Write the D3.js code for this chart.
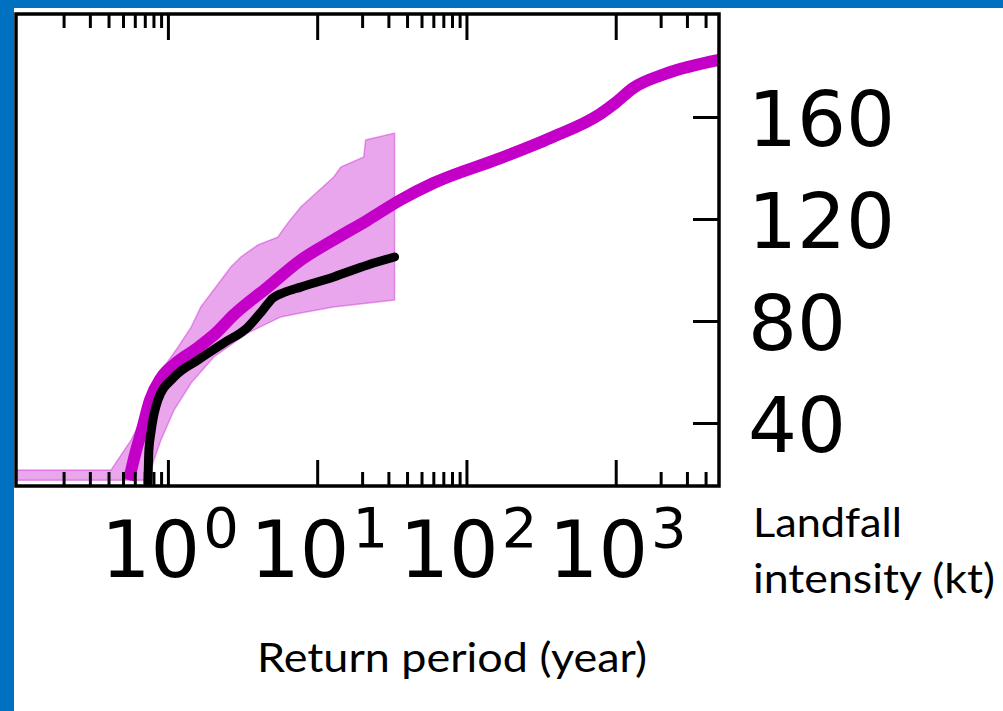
<!DOCTYPE html>
<html>
<head>
<meta charset="utf-8">
<script src="https://cdn.jsdelivr.net/npm/d3@7"></script>
<style>
  html, body { margin: 0; padding: 0; background: #ffffff; }
  svg { display: block; }
</style>
</head>
<body>
<svg id="chart" width="1003" height="711"></svg>
<script>
// ---- data ----
// Modelled (median) return-period curve: return period (yr), landfall intensity (kt)
const modelPeriod    = [0.548, 0.601, 0.670, 0.758, 0.898, 1.13, 1.54, 2.10, 2.76, 4.67, 7.76, 12.9, 21.8, 36.2, 60.2, 169, 365, 787, 993, 1310, 2143, 4920];
const modelIntensity = [17.6, 27.5, 37.3, 49.0, 57.6, 63.5, 69.0, 75.3, 82.4, 93.3, 103.9, 111.8, 119.6, 127.5, 134.1, 143.9, 151.8, 161.2, 165.5, 171.4, 176.9, 182.4];

// Observed return-period curve
const obsPeriod    = [0.735, 0.746, 0.769, 0.857, 1.10, 1.59, 2.37, 3.43, 4.32, 5.04, 6.15, 7.76, 12.9, 21.8, 33.0];
const obsIntensity = [16.5, 29.4, 36.1, 49.0, 58.0, 64.7, 71.4, 77.6, 84.3, 89.0, 91.4, 93.3, 97.3, 102.0, 105.1];

// Uncertainty band (upper and lower bounds)
const upperPeriod    = [0.096, 0.416, 0.566, 0.735, 0.94, 1.17, 1.43, 1.66, 2.64, 3.08, 4.0, 5.44, 6.35, 7.76, 12.9, 14.4, 20.5, 21.1, 33.0];
const upperIntensity = [21.6, 21.6, 33.3, 46.3, 62.0, 69.8, 77.6, 85.5, 101.2, 105.1, 109.8, 112.9, 118.4, 124.7, 136.5, 140.4, 144.3, 151.0, 153.7];
const lowerPeriod    = [0.096, 0.735, 0.806, 0.898, 1.10, 1.43, 2.03, 3.43, 5.70, 7.76, 12.9, 33.0];
const lowerIntensity = [17.6, 17.6, 25.5, 33.3, 45.1, 55.7, 65.9, 75.3, 81.6, 83.1, 85.5, 88.2];

// Axes
const xDomain = [0.096, 4920];
const yDomain = [15.3, 200.4];
const xMajorTicks = [1, 10, 100, 1000];
const xMajorExponents = ["0", "1", "2", "3"];
const xMinorTicks = [0.2, 0.3, 0.4, 0.5, 0.6, 0.7, 0.8, 0.9, 20, 30, 40, 50, 60, 70, 80, 90, 2000, 3000, 4000];
const yTicks = [40, 80, 120, 160];
const xTitle = "Return period (year)";
const yTitleLines = ["Landfall", "intensity (kt)"];

// ---- drawing ----
const svg = d3.select("#chart");
const W = 1003, H = 711;
const plot = { left: 16, right: 719, top: 14, bottom: 486 };

// slide background: blue frame on top and left
svg.append("rect").attr("x", 0).attr("y", 0).attr("width", W).attr("height", H).attr("fill", "#ffffff");
svg.append("rect").attr("x", 0).attr("y", 0).attr("width", W).attr("height", 8).attr("fill", "#0070c0");
svg.append("rect").attr("x", 0).attr("y", 0).attr("width", 14).attr("height", H).attr("fill", "#0070c0");

const x = d3.scaleLog().domain(xDomain).range([plot.left, plot.right]);
const y = d3.scaleLinear().domain(yDomain).range([plot.bottom, plot.top]);

svg.append("clipPath").attr("id", "clip")
  .append("rect").attr("x", plot.left).attr("y", plot.top)
  .attr("width", plot.right - plot.left).attr("height", plot.bottom - plot.top);

const g = svg.append("g").attr("clip-path", "url(#clip)");

// band
const upper = upperPeriod.map((p, i) => [p, upperIntensity[i]]);
const lower = lowerPeriod.map((p, i) => [p, lowerIntensity[i]]);
const bandPts = upper.concat(lower.slice().reverse());
g.append("path")
  .attr("d", d3.line().x(d => x(d[0])).y(d => y(d[1]))(bandPts) + "Z")
  .attr("fill", "#c000c8").attr("fill-opacity", 0.35)
  .attr("stroke", "#c000c8").attr("stroke-opacity", 0.35).attr("stroke-width", 1.5);

// model line
const model = modelPeriod.map((p, i) => [p, modelIntensity[i]]);
g.append("path")
  .attr("d", d3.line().x(d => x(d[0])).y(d => y(d[1])).curve(d3.curveMonotoneX)(model))
  .attr("fill", "none").attr("stroke", "#c400c8").attr("stroke-width", 12)
  .attr("stroke-linejoin", "round").attr("stroke-linecap", "butt");

// observed line
const obs = obsPeriod.map((p, i) => [p, obsIntensity[i]]);
g.append("path")
  .attr("d", d3.line().x(d => x(d[0])).y(d => y(d[1])).curve(d3.curveMonotoneX)(obs))
  .attr("fill", "none").attr("stroke", "#000000").attr("stroke-width", 9)
  .attr("stroke-linejoin", "round").attr("stroke-linecap", "round");

// ticks (inward) on bottom and top
const majorLen = 26, minorLen = 14;
const bottomMajor = d3.axisTop(x).tickValues(xMajorTicks).tickSize(majorLen).tickFormat("");
const bottomMinor = d3.axisTop(x).tickValues(xMinorTicks).tickSize(minorLen).tickFormat("");
const topMajor = d3.axisBottom(x).tickValues(xMajorTicks).tickSize(majorLen).tickFormat("");
const topMinor = d3.axisBottom(x).tickValues(xMinorTicks).tickSize(minorLen).tickFormat("");
const rightAxis = d3.axisLeft(y).tickValues(yTicks).tickSize(majorLen).tickFormat("");

function styleAxis(sel) {
  sel.select(".domain").remove();
  sel.selectAll(".tick line").attr("stroke", "#000").attr("stroke-width", 3);
}
svg.append("g").attr("transform", `translate(0,${plot.bottom})`).call(bottomMajor).call(styleAxis);
svg.append("g").attr("transform", `translate(0,${plot.bottom})`).call(bottomMinor).call(styleAxis);
svg.append("g").attr("transform", `translate(0,${plot.top})`).call(topMajor).call(styleAxis);
svg.append("g").attr("transform", `translate(0,${plot.top})`).call(topMinor).call(styleAxis);
svg.append("g").attr("transform", `translate(${plot.right},0)`).call(rightAxis).call(styleAxis);

// frame
svg.append("rect")
  .attr("x", plot.left).attr("y", plot.top)
  .attr("width", plot.right - plot.left).attr("height", plot.bottom - plot.top)
  .attr("fill", "none").attr("stroke", "#000").attr("stroke-width", 3.5);

// x tick labels 10^n
const tickFont = "'DejaVu Sans', sans-serif";
xMajorTicks.forEach((v, i) => {
  const t = svg.append("text")
    .attr("x", x(v) + 2).attr("y", 577)
    .attr("text-anchor", "middle")
    .attr("font-family", tickFont).attr("font-size", 78).attr("fill", "#000");
  t.append("tspan").text("10");
  t.append("tspan").attr("dy", -30).attr("dx", 3).attr("font-size", 56).text(xMajorExponents[i]);
});

// y tick labels on the right
svg.selectAll("text.ylab").data(yTicks).enter().append("text")
  .attr("class", "ylab")
  .attr("x", 748).attr("y", d => y(d) + 29)
  .attr("font-family", tickFont).attr("font-size", 77).attr("fill", "#000")
  .text(d => d);

// axis titles
const titleFont = "Lato, 'Open Sans', sans-serif";
svg.append("text")
  .attr("x", 257).attr("y", 672)
  .attr("font-family", titleFont).attr("font-size", 40).attr("fill", "#000")
  .attr("textLength", 390).attr("lengthAdjust", "spacingAndGlyphs")
  .text(xTitle);
svg.append("text")
  .attr("x", 753).attr("y", 537)
  .attr("font-family", titleFont).attr("font-size", 40).attr("fill", "#000")
  .attr("textLength", 149).attr("lengthAdjust", "spacingAndGlyphs")
  .text(yTitleLines[0]);
svg.append("text")
  .attr("x", 753).attr("y", 593)
  .attr("font-family", titleFont).attr("font-size", 40).attr("fill", "#000")
  .attr("textLength", 242).attr("lengthAdjust", "spacingAndGlyphs")
  .text(yTitleLines[1]);
</script>
</body>
</html>
